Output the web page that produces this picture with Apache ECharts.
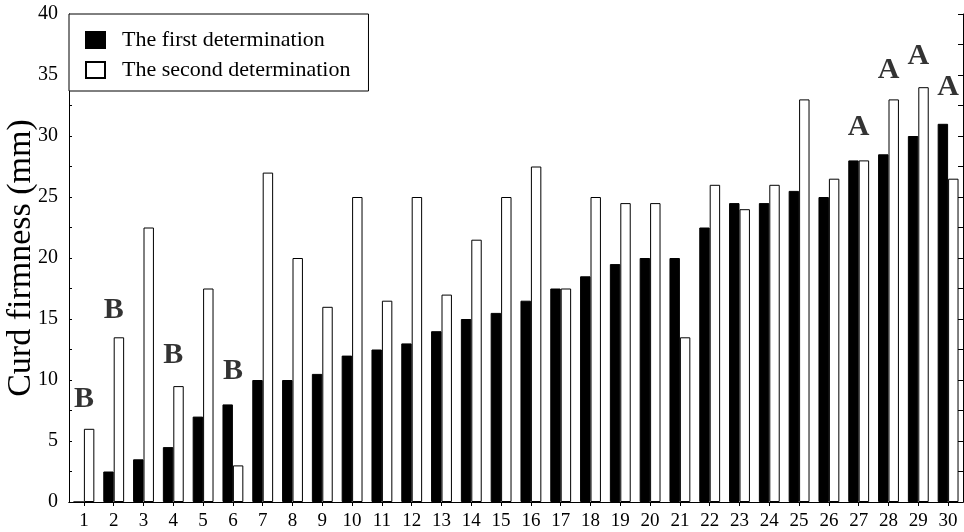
<!DOCTYPE html>
<html>
<head>
<meta charset="utf-8">
<script src="https://cdn.jsdelivr.net/npm/echarts@6/dist/echarts.min.js"></script>
<style>
html,body{margin:0;padding:0;background:#fff;}
#chart{width:964px;height:532px;}
</style>
</head>
<body>
<div id="chart"></div>
<script>
var categories = ['1','2','3','4','5','6','7','8','9','10','11','12','13','14','15','16','17','18','19','20','21','22','23','24','25','26','27','28','29','30'];
var firstDetermination = [0, 2.5, 3.5, 4.5, 7, 8, 10, 10, 10.5, 12, 12.5, 13, 14, 15, 15.5, 16.5, 17.5, 18.5, 19.5, 20, 20, 22.5, 24.5, 24.5, 25.5, 25, 28, 28.5, 30, 31];
var secondDetermination = [6, 13.5, 22.5, 9.5, 17.5, 3, 27, 20, 16, 25, 16.5, 25, 17, 21.5, 25, 27.5, 17.5, 25, 24.5, 24.5, 13.5, 26, 24, 26, 33, 26.5, 28, 33, 34, 26.5];
var yTicks = [0, 5, 10, 15, 20, 25, 30, 35, 40];
var noteCategories = ['1', '2', '4', '6', '27', '28', '29', '30'];
var noteTexts = ['B', 'B', 'B', 'B', 'A', 'A', 'A', 'A'];
var noteValues = [8.4, 15.7, 12.0, 10.7, 30.7, 35.4, 36.5, 34.0];

var FONT = '"Liberation Serif", "DejaVu Serif", serif';
var chart = echarts.init(document.getElementById('chart'));

var noteData = noteCategories.map(function (c, i) {
  return { value: [c, noteValues[i]], label: { formatter: noteTexts[i] } };
});

var yCommon = {
  type: 'value',
  min: yTicks[0],
  max: yTicks[yTicks.length - 1],
  interval: yTicks[1] - yTicks[0],
  splitLine: { show: false },
  axisLine: { show: true, lineStyle: { color: '#000', width: 1 } }
};

chart.setOption({
  backgroundColor: '#fff',
  animation: false,
  textStyle: { fontFamily: FONT },
  grid: { left: 69, right: 1, top: 14, bottom: 30, containLabel: false, outerBoundsMode: 'none' },
  legend: {
    data: ['The first determination', 'The second determination'],
    orient: 'vertical',
    left: 69,
    top: 14,
    padding: [15, 18, 10, 16],
    itemWidth: 19,
    itemHeight: 16,
    itemGap: 8,
    icon: 'rect',
    borderColor: '#000',
    borderWidth: 1,
    backgroundColor: '#fff',
    textStyle: { fontFamily: FONT, fontSize: 22, lineHeight: 22, color: '#000', padding: [0, 0, 0, 12] }
  },
  xAxis: [
    {
      type: 'category',
      data: categories,
      position: 'bottom',
      axisLine: { show: true, lineStyle: { color: '#000', width: 1 } },
      axisTick: { show: false },
      axisLabel: { color: '#000', fontFamily: FONT, fontSize: 19, margin: 10, interval: 0 }
    },
    {
      type: 'category',
      data: categories,
      position: 'top',
      axisLine: { show: true, lineStyle: { color: '#000', width: 1 } },
      axisTick: { show: true, inside: true, alignWithLabel: true, length: 4, lineStyle: { color: '#000' } },
      axisLabel: { show: false }
    }
  ],
  yAxis: [
    Object.assign({}, yCommon, {
      position: 'left',
      name: 'Curd firmness (mm)',
      nameLocation: 'middle',
      nameGap: 31,
      nameMoveOverlap: false,
      nameTextStyle: { fontFamily: FONT, fontSize: 34, color: '#000' },
      axisLabel: { color: '#000', fontFamily: FONT, fontSize: 20, margin: 11 },
      axisTick: { show: true, inside: true, length: 3, lineStyle: { color: '#000' } },
      minorTick: { show: true, splitNumber: 2, length: 3, lineStyle: { color: '#000' } }
    }),
    Object.assign({}, yCommon, {
      position: 'right',
      axisLabel: { show: false },
      axisTick: { show: true, inside: true, length: 5, lineStyle: { color: '#000' } },
      minorTick: { show: true, splitNumber: 2, length: 5, lineStyle: { color: '#000' } }
    })
  ],
  series: [
    {
      name: 'The first determination',
      type: 'bar',
      xAxisIndex: 0,
      yAxisIndex: 0,
      data: firstDetermination,
      barGap: '0%',
      barCategoryGap: '30%',
      itemStyle: { color: '#000', borderColor: '#000', borderWidth: 1 }
    },
    {
      name: 'The second determination',
      type: 'bar',
      xAxisIndex: 0,
      yAxisIndex: 0,
      data: secondDetermination,
      barGap: '0%',
      barCategoryGap: '30%',
      itemStyle: { color: '#fff', borderColor: '#000', borderWidth: 1 }
    },
    {
      name: 'notes',
      type: 'scatter',
      xAxisIndex: 0,
      yAxisIndex: 0,
      symbolSize: 0,
      data: noteData,
      silent: true,
      z: 5,
      label: {
        show: true,
        position: 'inside',
        color: '#000',
        fontFamily: FONT,
        fontSize: 30,
        fontWeight: 'bold'
      }
    }
  ]
});
</script>
</body>
</html>
